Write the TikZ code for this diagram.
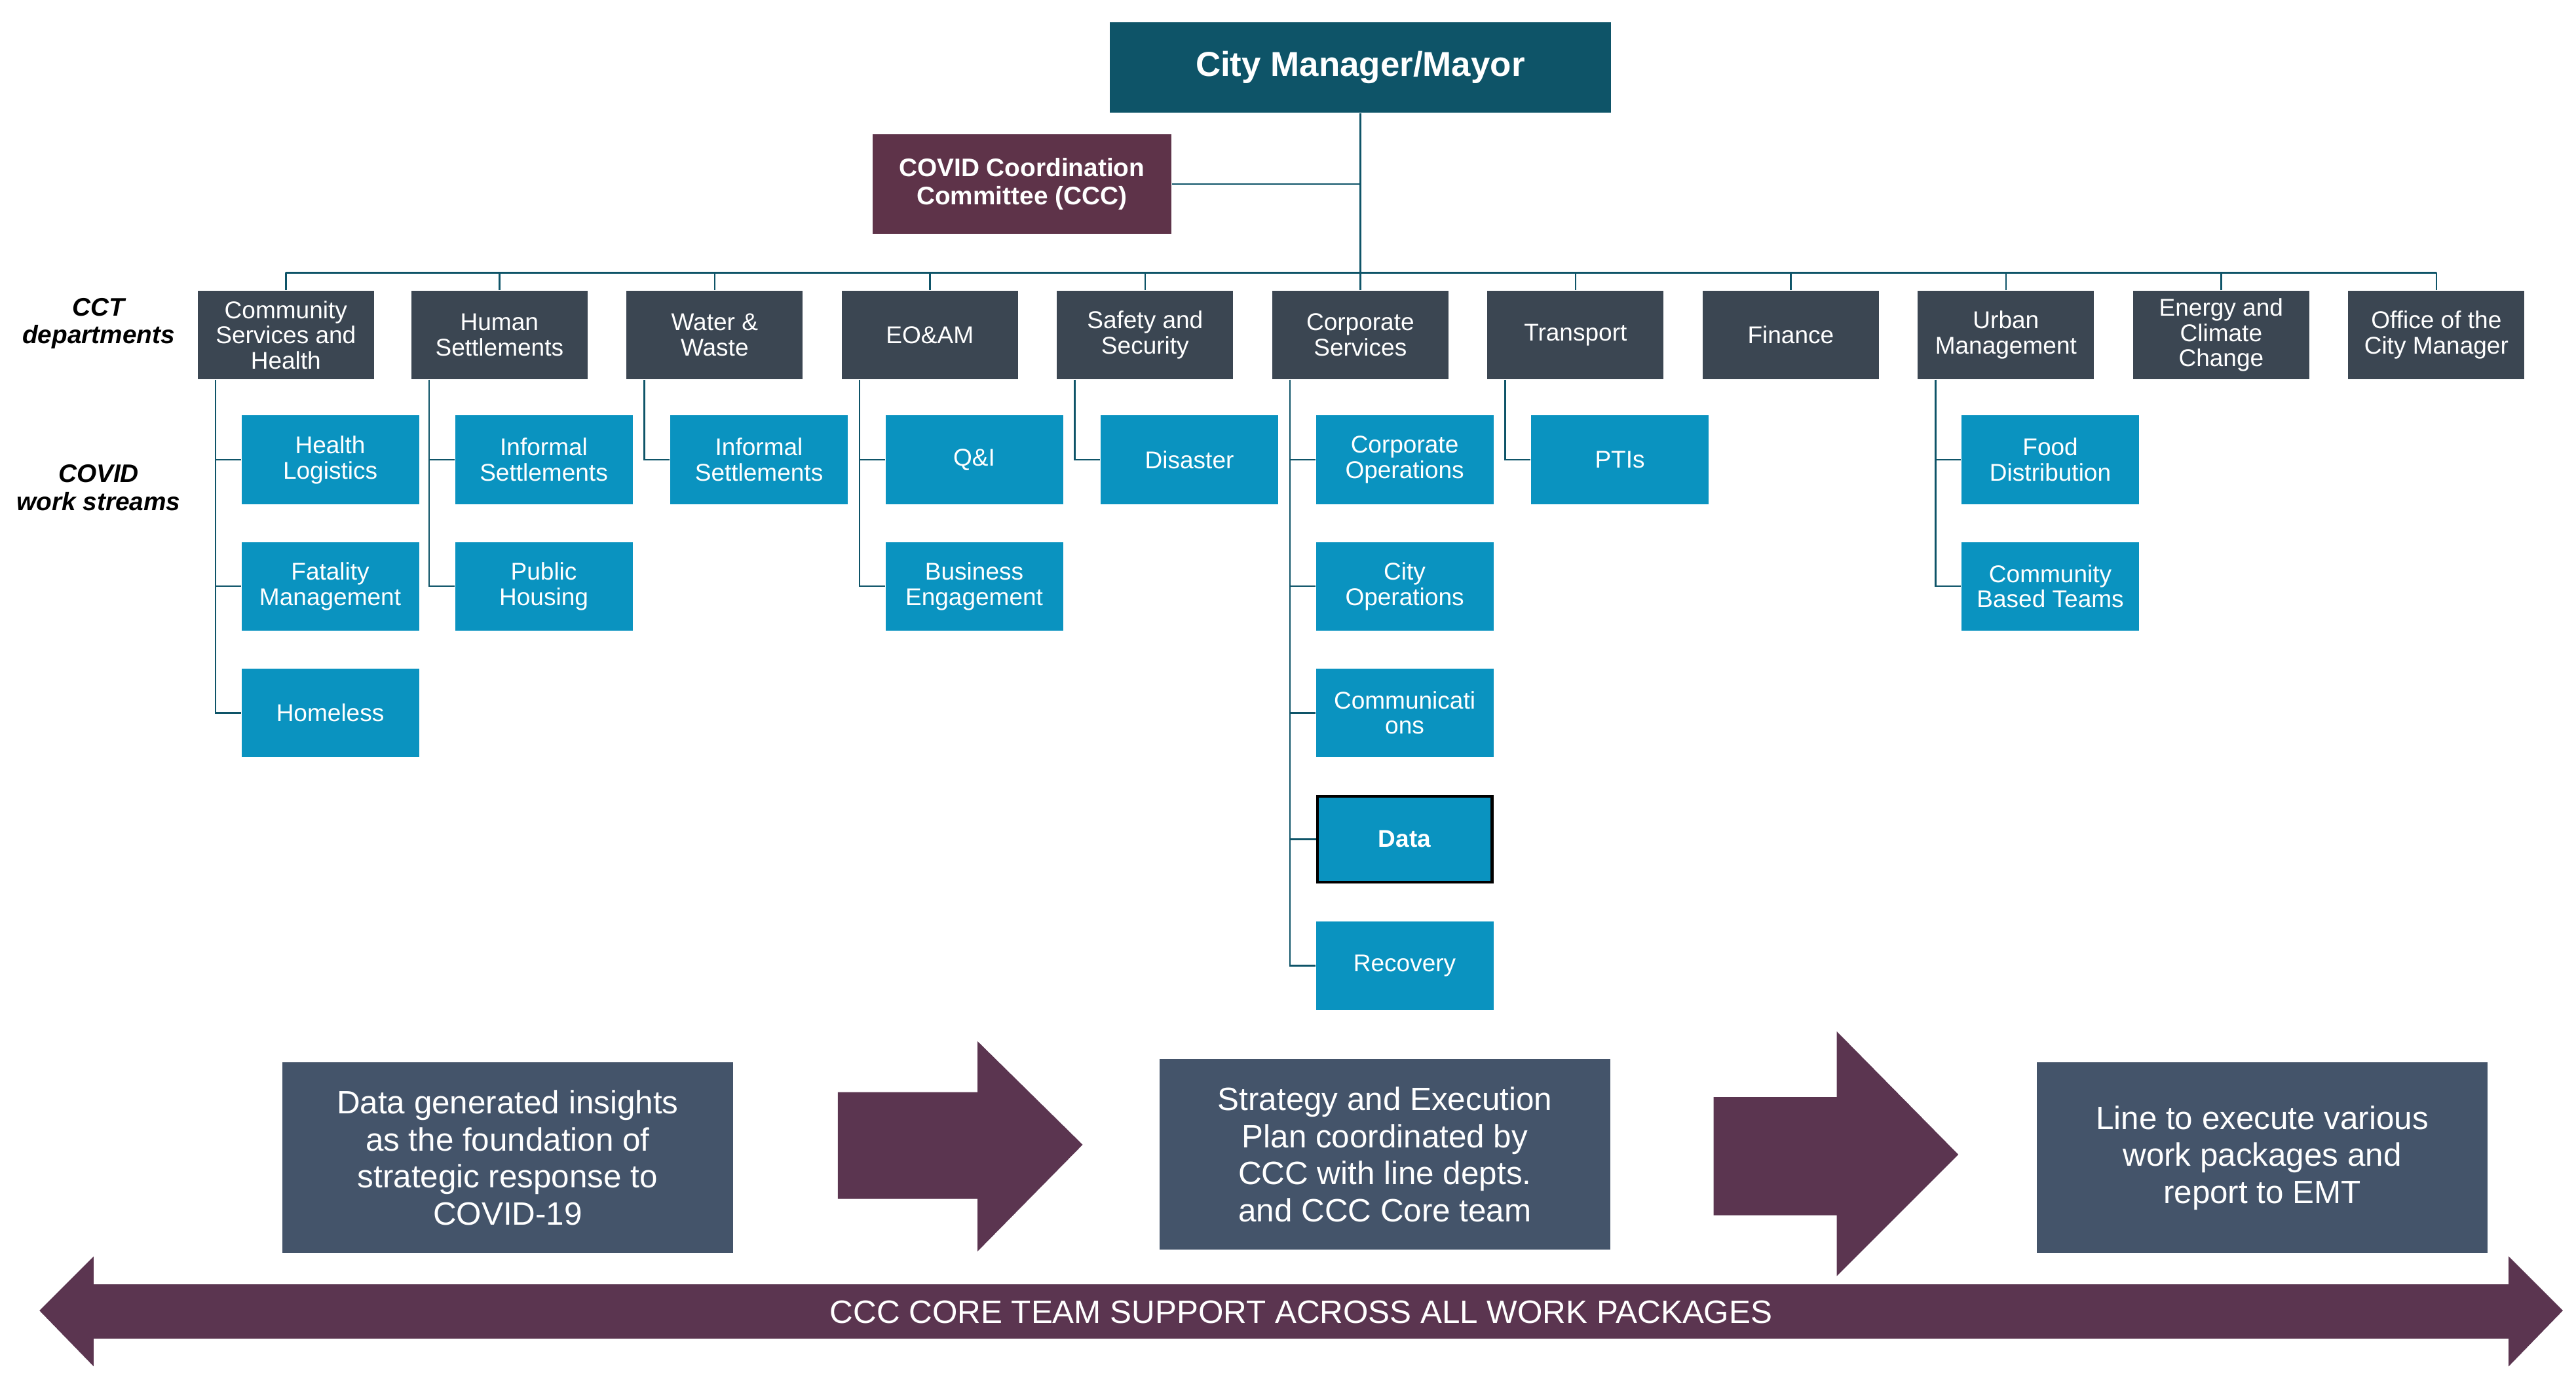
\documentclass[tikz,border=0pt]{standalone}
\usepackage{fontspec}
\setmainfont{Liberation Sans}
\usetikzlibrary{positioning,shapes.arrows,calc}
\definecolor{cityteal}{RGB}{14,84,104}
\definecolor{cccmaroon}{RGB}{94,51,73}
\definecolor{deptslate}{RGB}{59,70,82}
\definecolor{streamblue}{RGB}{10,147,192}
\definecolor{stepslate}{RGB}{68,84,106}
\definecolor{arrowmaroon}{RGB}{91,53,80}
\begin{document}
\begin{tikzpicture}[x=0.025cm,y=-0.025cm,
    dept/.style={fill=deptslate,text=white,minimum width=2.68cm,minimum height=1.35cm,
      inner sep=1pt,align=center,font=\fontsize{10.5}{11}\selectfont},
    stream/.style={fill=streamblue,text=white,minimum width=2.7cm,minimum height=1.35cm,
      inner sep=1pt,align=center,font=\fontsize{10.5}{11}\selectfont},
    phase/.style={fill=stepslate,text=white,minimum width=6.85cm,minimum height=2.9cm,
      align=center,font=\fontsize{14}{16}\selectfont},
    link/.style={draw=cityteal,line width=0.7pt},
    side/.style={font=\bfseries\itshape\fontsize{11}{12}\selectfont,align=center}]
    \useasboundingbox (0,0) rectangle (1568,848);

    % Top of the chart
    \node[fill=cityteal,text=white,minimum width=7.62cm,minimum height=1.38cm,
      font=\bfseries\fontsize{15}{17}\selectfont] (mayor) at (828,41) {City Manager/Mayor};
    \node[fill=cccmaroon,text=white,minimum width=4.55cm,minimum height=1.52cm,align=center,
      font=\bfseries\fontsize{11}{12}\selectfont] (ccc) at (622,112) {COVID Coordination\\Committee (CCC)};
    \coordinate (bus) at (828,166);
    \draw[link] (mayor.south) -- (bus);
    \draw[link] (ccc.east) -- (ccc.east -| bus);

    % Departments
    \foreach \n/\x/\t in {d1/174/{Community\\Services and\\Health},d2/304/{Human\\Settlements},
      d3/435/{Water \&\\Waste},d4/566/{EO\&AM},d5/697/{Safety and\\Security},
      d6/828/{Corporate\\Services},d7/959/{Transport},d8/1090/{Finance},
      d9/1221/{Urban\\Management},d10/1352/{Energy and\\Climate\\Change},d11/1483/{Office of the\\City Manager}}{
      \node[dept] (\n) at (\x,204) {\t};
      \draw[link] (\n.north) -- (\n.north |- bus);
    }
    \draw[link] (d1.north |- bus) -- (d11.north |- bus);

    \node[side] (lbldept) at (60,197) {CCT\\departments};
    \node[side] (lblstream) at (60,297) {COVID\\work streams};

    % Work streams
    \foreach \d/\k/\y/\t in {d1/a/280/{Health\\Logistics},d1/b/357/{Fatality\\Management},d1/c/434/{Homeless},
      d2/a/280/{Informal\\Settlements},d2/b/357/{Public\\Housing},
      d3/a/280/{Informal\\Settlements},
      d4/a/280/{Q\&I},d4/b/357/{Business\\Engagement},
      d5/a/280/{Disaster},
      d6/a/280/{Corporate\\Operations},d6/b/357/{City\\Operations},d6/c/434/{Communicati\\ons},
      d6/e/588/{Recovery},
      d7/a/280/{PTIs},
      d9/a/280/{Food\\Distribution},d9/b/357/{Community\\Based Teams}}{
      \node[stream] (\d\k) at (\d.center |- 0,\y) [xshift=0.675cm] {\t};
      \draw[link] ($(\d.south west)+(11,0)$) |- (\d\k.west);
    }
    \node[stream,draw=black,line width=1.2pt,font=\bfseries\fontsize{10.5}{11}\selectfont,
      minimum width=2.66cm,minimum height=1.31cm] (d6d) at ($(d6.center |- 0,511)+(27,0)$) {Data};
    \draw[link] ($(d6.south west)+(11,0)$) |- (d6d.west);

    % Process steps
    \node[phase] (insight) at (309,705) {Data generated insights\\as the foundation of\\strategic response to\\COVID-19};
    \node[phase] (plan) at (843,703) {Strategy and Execution\\Plan coordinated by\\CCC with line depts.\\and CCC Core team};
    \node[phase] (execute) at (1377,705) {Line to execute various\\work packages and\\report to EMT};
    \fill[arrowmaroon] (510,665) -- (595,665) -- (595,634) -- (659,697) -- (595,762) -- (595,730) -- (510,730) -- cycle;
    \fill[arrowmaroon] (1043,668) -- (1118,668) -- (1118,628) -- (1192,703) -- (1118,777) -- (1118,740) -- (1043,740) -- cycle;

    % Support band
    \fill[arrowmaroon] (24,798) -- (57,765) -- (57,782) -- (1527,782) -- (1527,765) -- (1560,798)
      -- (1527,832) -- (1527,815) -- (57,815) -- (57,832) -- cycle;
    \node[text=white,font=\fontsize{14}{16}\selectfont] (support) at (792,799) {CCC CORE TEAM SUPPORT ACROSS ALL WORK PACKAGES};
\end{tikzpicture}
\end{document}
